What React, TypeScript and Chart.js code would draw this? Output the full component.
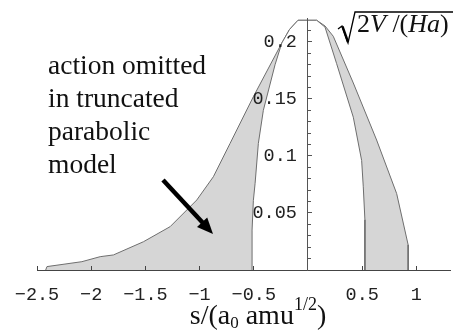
import React, { useEffect, useRef } from "react";
import { Chart, registerables } from "chart.js";

Chart.register(...registerables);

// exact sqrt(2V/(Ha)) curve
const outerX = [-2.42, -2.408, -2.086, -1.917, -1.795, -1.518, -1.272, -1.026, -0.873, -0.719, -0.504, -0.242, -0.17, -0.092, 0.08, 0.157, 0.233, 0.418, 0.633, 0.818, 0.924, 0.924];
const outerY = [0, 0.003, 0.0073, 0.0117, 0.0132, 0.0248, 0.038, 0.0614, 0.0818, 0.111, 0.152, 0.199, 0.211, 0.219, 0.219, 0.214, 0.205, 0.164, 0.114, 0.067, 0.022, 0];

// truncated parabolic model
const innerX = [-0.516, -0.516, -0.504, -0.488, -0.458, -0.412, -0.304, -0.242, -0.17, -0.092, 0.08, 0.157, 0.264, 0.418, 0.495, 0.51, 0.525, 0.525];
const innerY = [0, 0.035, 0.061, 0.076, 0.111, 0.14, 0.18, 0.199, 0.211, 0.219, 0.219, 0.213, 0.181, 0.134, 0.096, 0.073, 0.044, 0];

const xTickValues = [-2.5, -2, -1.5, -1, -0.5, 0.5, 1];
const xTickLabels = ["\u22122.5", "\u22122", "\u22121.5", "\u22121", "\u22120.5", "0.5", "1"];
const yMajorTicks = [0.05, 0.1, 0.15, 0.2];
const yMajorLabels = ["0.05", "0.1", "0.15", "0.2"];
const yMinorTicks = [0.01, 0.02, 0.03, 0.04, 0.06, 0.07, 0.08, 0.09, 0.11, 0.12, 0.13, 0.14, 0.16, 0.17, 0.18, 0.19, 0.21];

const X_MIN = -2.5;
const X_MAX = 1.31;
const Y_MIN = 0;
const Y_MAX = 0.221;

const annotationLines = ["action omitted", "in truncated", "parabolic", "model"];

export default function App() {
  const ref = useRef<HTMLCanvasElement | null>(null);

  useEffect(() => {
    if (!ref.current) return;
    const noPad = (s: any) => {
      s.paddingTop = 0;
      s.paddingBottom = 0;
      s.paddingLeft = 0;
      s.paddingRight = 0;
    };
    const chart = new Chart(ref.current, {
      type: "line",
      data: {
        datasets: [
          {
            label: "parabolic",
            data: innerX.map((x, i) => ({ x, y: innerY[i] })),
            borderColor: "#6e6e6e",
            borderWidth: 1,
            backgroundColor: "#ffffff",
            fill: "origin",
            pointRadius: 0,
            tension: 0,
          },
          {
            label: "exact",
            data: outerX.map((x, i) => ({ x, y: outerY[i] })),
            borderColor: "#6e6e6e",
            borderWidth: 1,
            backgroundColor: "rgb(214,214,214)",
            fill: "origin",
            pointRadius: 0,
            tension: 0,
          },
        ],
      },
      options: {
        responsive: false,
        animation: false,
        devicePixelRatio: 1,
        layout: { padding: { left: 37, right: 3, top: 18, bottom: 0 } },
        plugins: { legend: { display: false }, tooltip: { enabled: false } },
        scales: {
          x: {
            type: "linear",
            min: X_MIN,
            max: X_MAX,
            position: "bottom",
            afterBuildTicks: (s: any) => {
              s.ticks = xTickValues.map((v) => ({ value: v }));
            },
            afterFit: (s: any) => {
              noPad(s);
              s.height = 62;
            },
            grid: { z: 1, drawOnChartArea: false, drawTicks: true, tickLength: -4, tickColor: "#444", tickWidth: 1 },
            border: { z: 1, display: true, color: "#444", width: 1 },
            ticks: {
              z: 1,
              maxRotation: 0,
              autoSkip: false,
              padding: 18,
              color: "#222",
              font: { family: "'Liberation Mono', monospace", size: 18.5 },
              callback: (v: any) => {
                const i = xTickValues.indexOf(Number(v));
                return i >= 0 ? xTickLabels[i] : "";
              },
            },
          },
          y2: {
            type: "linear",
            min: Y_MIN,
            max: Y_MAX,
            position: { x: 0 } as any,
            afterBuildTicks: (s: any) => {
              s.ticks = yMinorTicks.map((v) => ({ value: v }));
            },
            afterFit: noPad,
            grid: { z: 1, drawOnChartArea: false, drawTicks: true, tickLength: -3, tickColor: "#555" },
            border: { display: false },
            ticks: { display: false },
          },
          y: {
            type: "linear",
            min: Y_MIN,
            max: Y_MAX,
            position: { x: 0 } as any,
            afterBuildTicks: (s: any) => {
              s.ticks = yMajorTicks.map((v) => ({ value: v }));
            },
            afterFit: noPad,
            grid: { z: 1, drawOnChartArea: false, drawTicks: true, tickLength: -5, tickColor: "#555" },
            border: { z: 1, display: true, color: "#555", width: 1 },
            ticks: {
              z: 1,
              padding: 0,
              color: "#222",
              font: { family: "'Liberation Mono', monospace", size: 18.5 },
              callback: (v: any) => {
                const i = yMajorTicks.indexOf(Number(v));
                return i >= 0 ? yMajorLabels[i] + " " : "";
              },
            },
          },
        },
      } as any,
    });
    return () => chart.destroy();
  }, []);

  const serif = "'Liberation Serif', 'Times New Roman', serif";

  return (
    <div style={{ position: "fixed", left: 0, top: 0, width: 453, height: 332, background: "#fff", overflow: "hidden" }}>
      <canvas ref={ref} width={453} height={332} style={{ position: "absolute", left: 0, top: 0, width: 453, height: 332 }} />
      <div
        style={{
          position: "absolute",
          left: 48,
          top: 48,
          fontFamily: serif,
          fontSize: 27.5,
          lineHeight: "33px",
          color: "#111",
          whiteSpace: "nowrap",
        }}
      >
        {annotationLines.map((l, i) => (
          <div key={i}>{l}</div>
        ))}
      </div>
      <svg width={453} height={332} style={{ position: "absolute", left: 0, top: 0, pointerEvents: "none" }}>
        <line x1={163} y1={180} x2={203} y2={223} stroke="#000" strokeWidth={4.5} />
        <polygon points="213,234 197,227 207.2,217.6" fill="#000" />
        <polyline points="338,29 342,26 348,43 355,12 453,12" fill="none" stroke="#000" strokeWidth={1.3} />
        <line x1={342.5} y1={26.5} x2={348} y2={42} stroke="#000" strokeWidth={2.4} />
      </svg>
      <div
        style={{
          position: "absolute",
          left: 357,
          top: 11,
          fontFamily: serif,
          fontSize: 26,
          lineHeight: "26px",
          color: "#111",
          whiteSpace: "nowrap",
        }}
      >
        2<i>V</i> /(<i>Ha</i>)
      </div>
      <div
        style={{
          position: "absolute",
          left: 258,
          top: 301,
          transform: "translateX(-50%)",
          fontFamily: serif,
          fontSize: 28,
          lineHeight: "27px",
          color: "#111",
          whiteSpace: "nowrap",
        }}
      >
        s/(a<span style={{ fontSize: 17, position: "relative", top: 4 }}>0</span> amu
        <span style={{ fontSize: 18, position: "relative", top: -14 }}>1/2</span>)
      </div>
    </div>
  );
}
